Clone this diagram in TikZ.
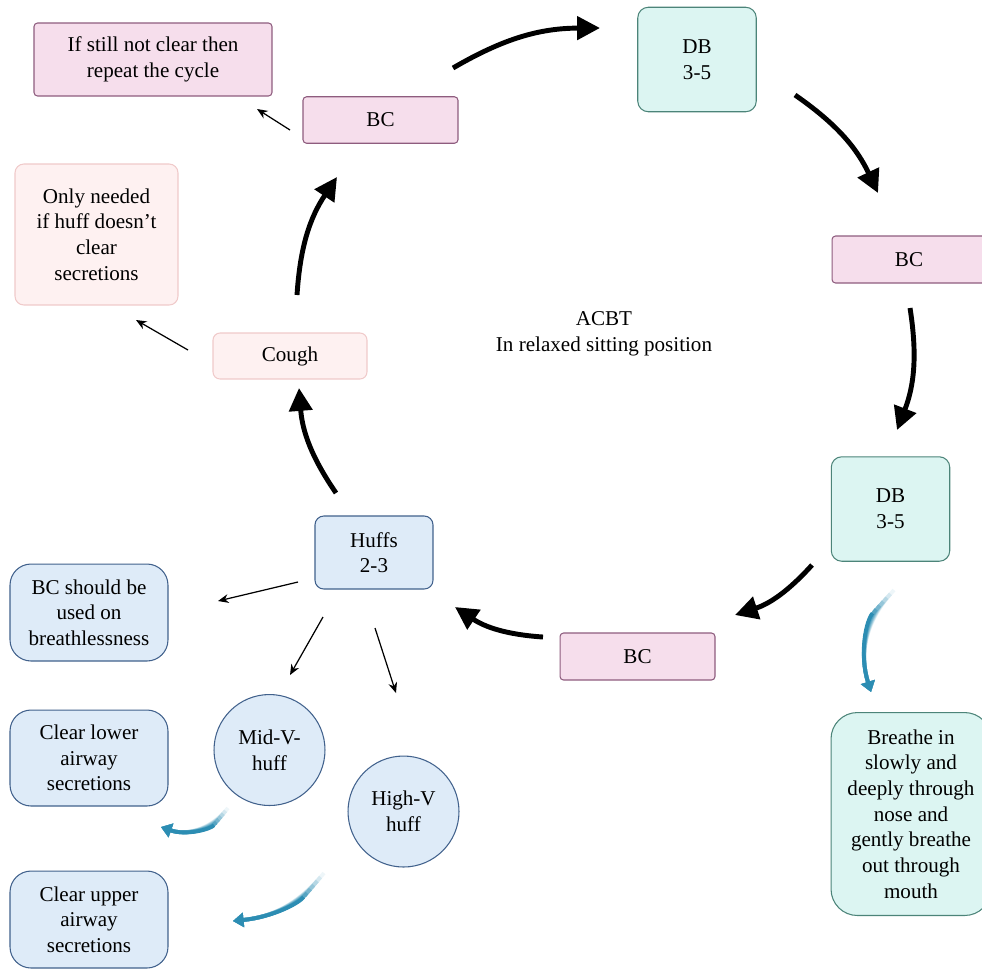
\documentclass[tikz,border=0pt]{standalone}
\usepackage{fontspec}
\setmainfont{Liberation Serif}
\usetikzlibrary{arrows.meta}

\definecolor{bcfill}{HTML}{F6DEEC}
\definecolor{bcline}{HTML}{8E5C7E}
\definecolor{dbfill}{HTML}{DCF5F2}
\definecolor{dbline}{HTML}{4C8479}
\definecolor{hffill}{HTML}{DEEBF8}
\definecolor{hfline}{HTML}{41618C}
\definecolor{cgfill}{HTML}{FEF1F1}
\definecolor{cgline}{HTML}{F0CACA}
\definecolor{flowc}{HTML}{2C8DB3}

\begin{document}
\begin{tikzpicture}[x=0.02cm, y=-0.02cm, font=\fontsize{12}{14.6}\selectfont,
                    box/.style={align=center, inner sep=0pt, line width=0.6pt},
                    bc/.style={box, fill=bcfill, draw=bcline, rounded corners=2pt,
                               minimum width=3.1cm, minimum height=0.93cm},
                    db/.style={box, fill=dbfill, draw=dbline, rounded corners=6pt,
                               minimum width=2.37cm, minimum height=2.09cm},
                    hf/.style={box, fill=hffill, draw=hfline},
                    cg/.style={box, fill=cgfill, draw=cgline},
                    big/.style={line width=2.8pt, -{Triangle[length=13pt,width=13pt]}, bend left=15},
                    fine/.style={line width=0.7pt, -{Stealth[length=6pt,width=5pt]}},
                    flow/.style={line width=2.2pt, -{Triangle[length=6pt,width=8pt]}}]
  \useasboundingbox (0,0) rectangle (982,968);

  % cycle
  \node[bc] (bcT) at (380.5,120) {BC};
  \node[db] (dbT) at (697,59.5) {DB\\3-5};
  \node[bc, minimum width=3.08cm, minimum height=0.94cm] (bcR) at (909,259.5) {BC};
  \node[db] (dbR) at (890.5,509) {DB\\3-5};
  \node[bc, minimum height=0.94cm] (bcB) at (637.5,656.5) {BC};
  \node[hf, rounded corners=5pt, minimum width=2.36cm, minimum height=1.46cm] (huff) at (374,552.5) {Huffs\\2-3};
  \node[cg, rounded corners=4pt, minimum width=3.08cm, minimum height=0.92cm] (cough) at (290,356) {Cough};
  \node[align=center] (acbt) at (604,334) {ACBT\\In relaxed sitting position};

  % side notes
  \node[bc, minimum width=4.76cm, minimum height=1.46cm] (rep) at (153,59.5) {If still not clear then\\repeat the cycle};
  \node[cg, rounded corners=5pt, minimum width=3.26cm, minimum height=2.82cm] (only) at (96.5,234.5) {Only needed\\if huff doesn’t\\clear\\secretions};
  \node[hf, rounded corners=12pt, minimum width=3.16cm, minimum height=1.94cm] (bcs) at (89,612.5) {BC should be\\used on\\breathlessness};
  \node[hf, rounded corners=12pt, minimum width=3.16cm, minimum height=1.92cm] (low) at (89,758) {Clear lower\\airway\\secretions};
  \node[hf, rounded corners=12pt, minimum width=3.16cm, minimum height=1.94cm] (up) at (89,919.5) {Clear upper\\airway\\secretions};
  \node[hf, circle, minimum size=2.22cm] (midv) at (269.5,750) {Mid-V-\\huff};
  \node[hf, circle, minimum size=2.22cm] (highv) at (403.5,811.5) {High-V\\huff};
  \node[box, fill=dbfill, draw=dbline, rounded corners=15pt, minimum width=3.2cm, minimum height=4.06cm] (breathe) at (911,814)
       {Breathe in\\slowly and\\deeply through\\nose and\\gently breathe\\out through\\mouth};

  % arrow ends
  \coordinate (c1a) at (453,68);  \coordinate (c1b) at (600,28);
  \coordinate (c2a) at (795,95);  \coordinate (c2b) at (878,193);
  \coordinate (c3a) at (910,308); \coordinate (c3b) at (897,430);
  \coordinate (c4a) at (812,565); \coordinate (c4b) at (735,615);
  \coordinate (c5a) at (543,637); \coordinate (c5b) at (455,607);
  \coordinate (c6a) at (336,493); \coordinate (c6b) at (299,388);
  \coordinate (c7a) at (297,295); \coordinate (c7b) at (337,177);
  \coordinate (t1a) at (290,130); \coordinate (t1b) at (257,109);
  \coordinate (t2a) at (188,350); \coordinate (t2b) at (136,320);
  \coordinate (t3a) at (298,582); \coordinate (t3b) at (218,601);
  \coordinate (t4a) at (323,617); \coordinate (t4b) at (290,675);
  \coordinate (t5a) at (375,628); \coordinate (t5b) at (396,693);
  \coordinate (f1a) at (894,590); \coordinate (f1b) at (871,692);
  \coordinate (f2a) at (228,808); \coordinate (f2b) at (161,827);
  \coordinate (f3a) at (324,873); \coordinate (f3b) at (233,921);

  \foreach \i in {1,...,7} \draw[big] (c\i a) to (c\i b);
  \foreach \i in {1,...,5} \draw[fine] (t\i a) -- (t\i b);
  % faded start of the blue arrows
  \foreach \s/\c in {0/8,3/20,6/35,9/50,12/65,15/80,18/100} {
    \draw[flow, flowc!\c, shorten <=\s pt] (f1a) to[bend right=30] (f1b);
    \draw[flow, flowc!\c, shorten <=0.7*\s pt] (f2a) to[bend left=35] (f2b);
    \draw[flow, flowc!\c, shorten <=\s pt] (f3a) to[bend left=22] (f3b);
  }
\end{tikzpicture}
\end{document}
